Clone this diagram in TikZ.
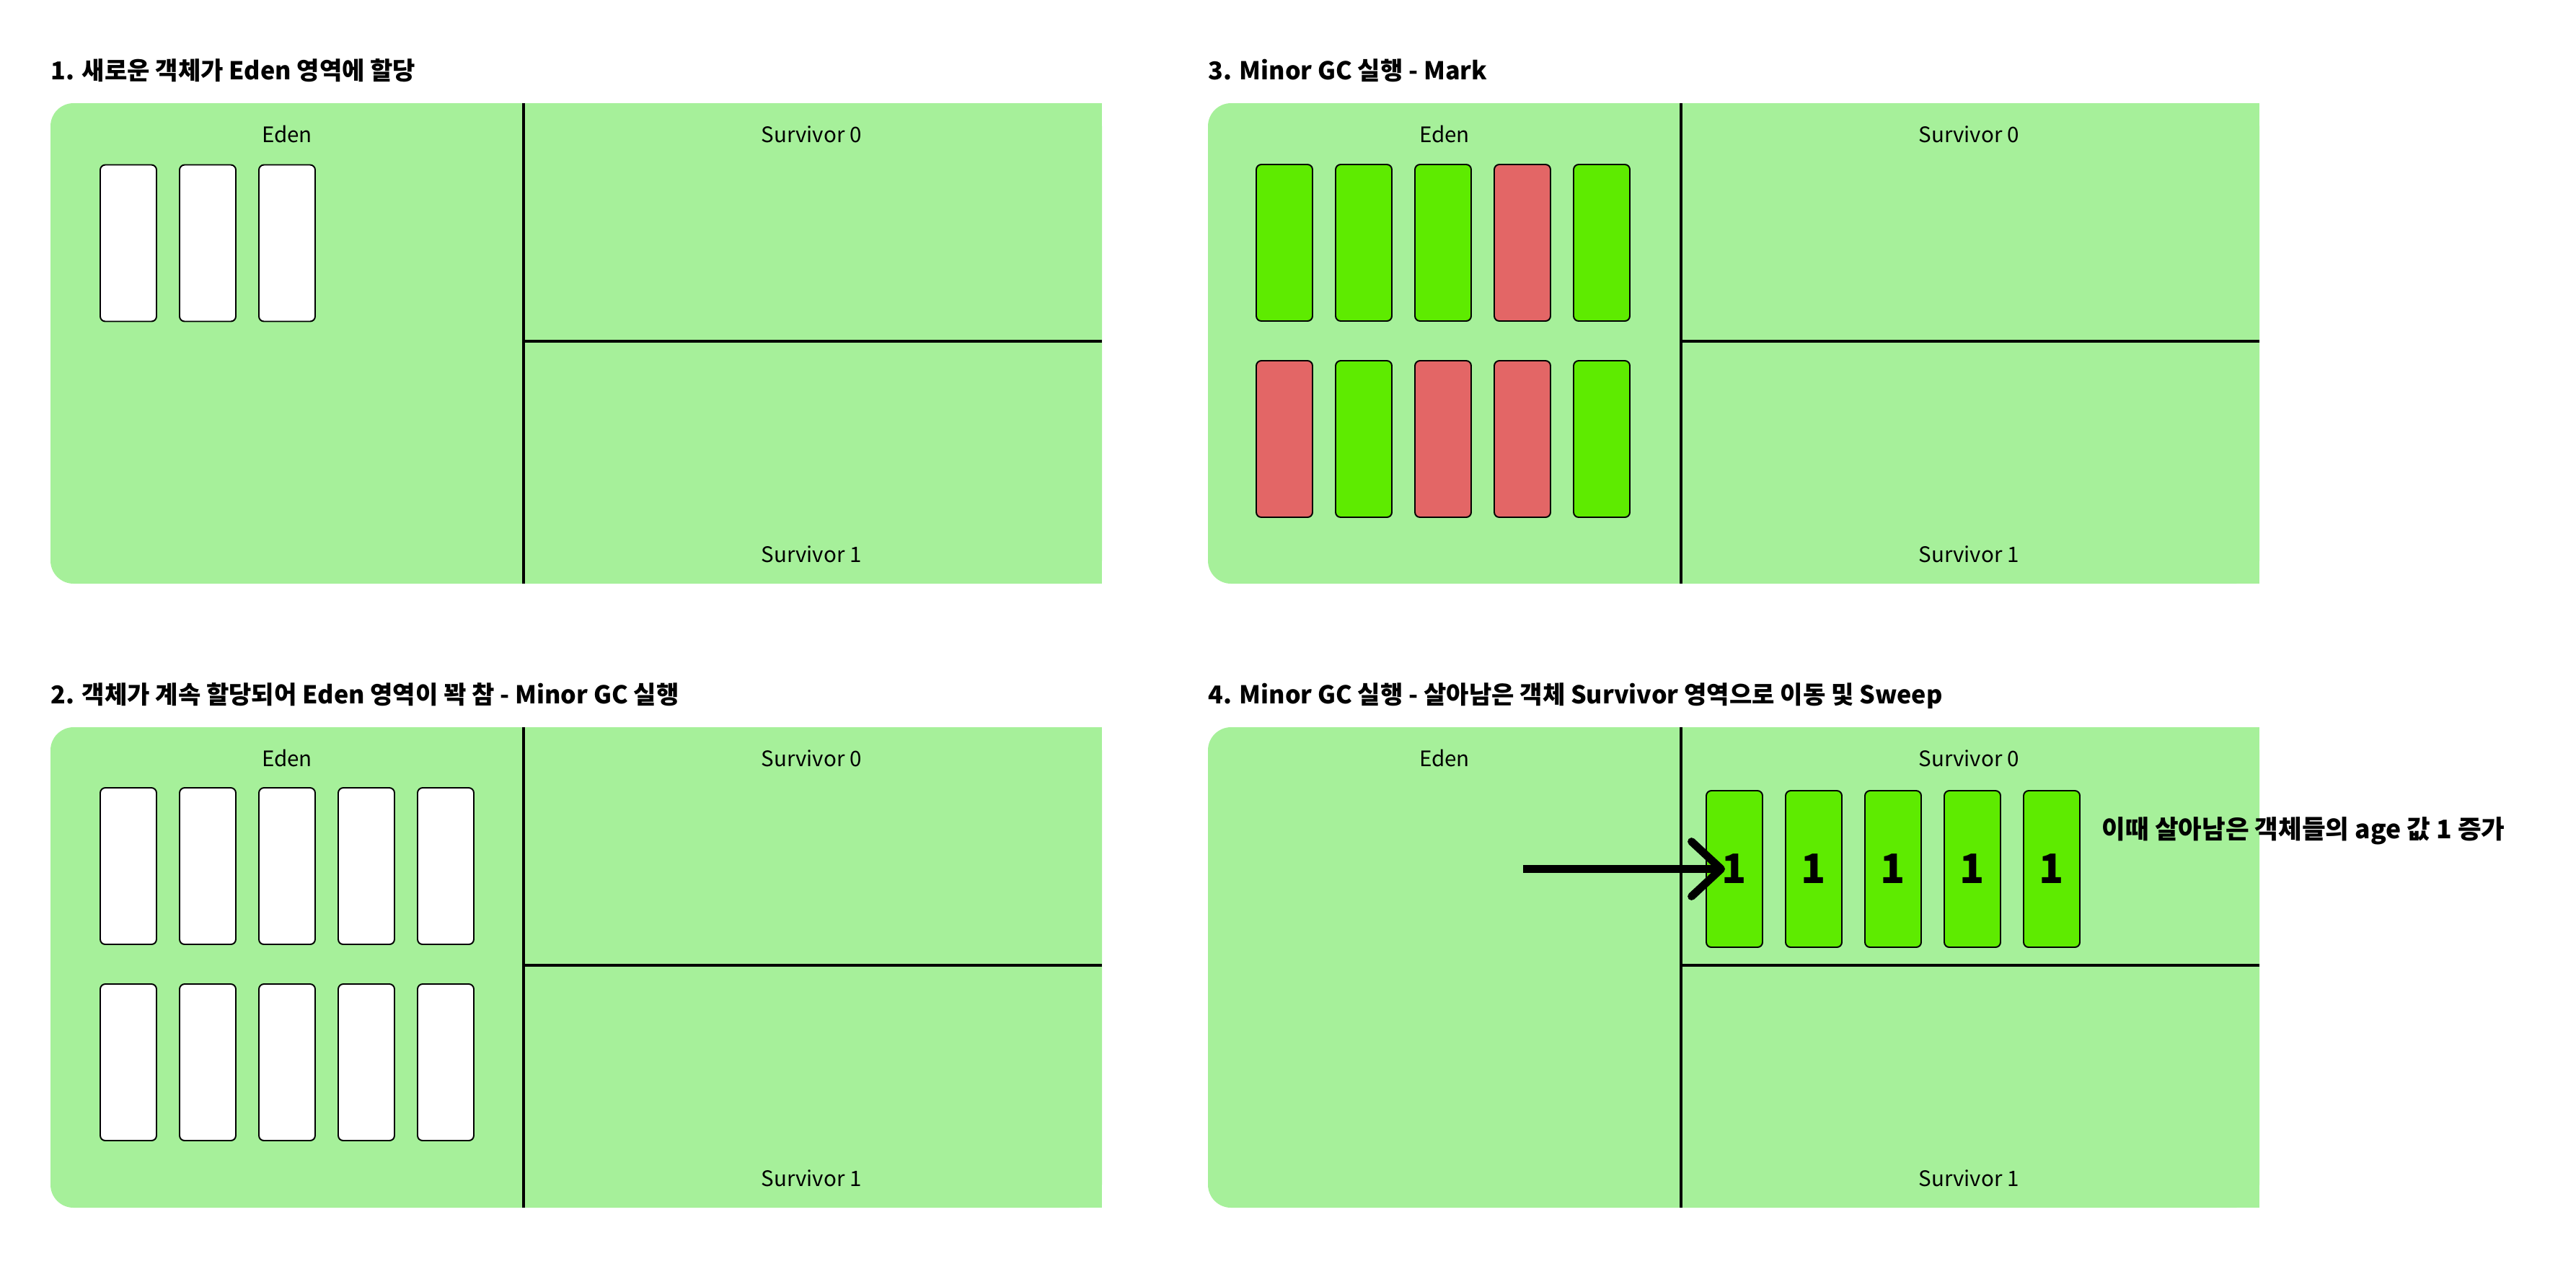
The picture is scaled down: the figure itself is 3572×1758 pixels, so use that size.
\documentclass[tikz,border=0pt]{standalone}
\usepackage{fontspec}
\setmainfont{Noto Sans CJK KR}
\usetikzlibrary{arrows.meta}

\definecolor{edenfill}{HTML}{A6F09A}
\definecolor{liveobj}{HTML}{5EEB00}
\definecolor{deadobj}{HTML}{E36666}

\begin{document}
\begin{tikzpicture}[x=0.1mm, y=-0.1mm,
    title/.style={anchor=base west, inner sep=0pt, font=\fontsize{9.7pt}{12pt}\selectfont\bfseries},
    area/.style={inner sep=0pt, font=\fontsize{8.4pt}{10pt}\selectfont},
    obj/.style={shape=rectangle, draw, line width=0.55pt, rounded corners=0.7mm, fill=white,
      minimum width=7.8mm, minimum height=21.7mm, inner sep=0pt, font=\fontsize{16pt}{18pt}\selectfont\bfseries},
    divider/.style={line width=1.1pt}]
    \useasboundingbox (0,0) rectangle (3572,1758);

    \node[title] (step1) at (70,110) {1. 새로운 객체가 Eden 영역에 할당};
    \node[title] (step2) at (70,975) {2. 객체가 계속 할당되어 Eden 영역이 꽉 참 - Minor GC 실행};
    \node[title] (step3) at (1675,110) {3. Minor GC 실행 - Mark};
    \node[title] (step4) at (1675,975) {4. Minor GC 실행 - 살아남은 객체 Survivor 영역으로 이동 및 Sweep};

    % heap areas
    \foreach \px/\py/\n in {70/143/1, 70/1008/2, 1675/143/3, 1675/1008/4} {
      \fill[edenfill, rounded corners=3.2mm] (\px,\py) rectangle ++(1458,666);
      \fill[edenfill] (\px+656,\py) rectangle ++(802,666);
      \draw[divider] (\px+656,\py) -- ++(0,666);
      \draw[divider] (\px+656,\py+330) -- ++(802,0);
      \node[area] (eden\n) at (\px+328,\py+43) {Eden};
      \node[area] (surva\n) at (\px+1055,\py+43) {Survivor 0};
      \node[area] (survb\n) at (\px+1055,\py+625) {Survivor 1};
    }

    % objects
    \foreach \k in {0,1,2}
      \node[obj] (new\k) at (178+110*\k,337) {};
    \foreach \k in {0,...,4} {
      \node[obj] (fulla\k) at (178+110*\k,1200.5) {};
      \node[obj] (fullb\k) at (178+110*\k,1472.5) {};
    }
    \foreach \k/\ca/\cb in {0/liveobj/deadobj, 1/liveobj/liveobj, 2/liveobj/deadobj, 3/deadobj/deadobj, 4/liveobj/liveobj} {
      \node[obj, fill=\ca] (marka\k) at (1781+110*\k,336.5) {};
      \node[obj, fill=\cb] (markb\k) at (1781+110*\k,608.5) {};
    }
    \foreach \k in {0,...,4}
      \node[obj, fill=liveobj] (aged\k) at (2405+110*\k,1204.5) {1};

    \coordinate (movefrom) at (2112,1204.5);
    \draw[line width=3.1pt, -{Straight Barb[length=4.1mm, width=7.6mm, round]}] (movefrom) -- ([xshift=-1.3mm]aged0.center);
    \node[title, font=\fontsize{10.1pt}{12pt}\selectfont\bfseries] (agenote) at (2914,1162) {이때 살아남은 객체들의 age 값 1 증가};
\end{tikzpicture}
\end{document}
